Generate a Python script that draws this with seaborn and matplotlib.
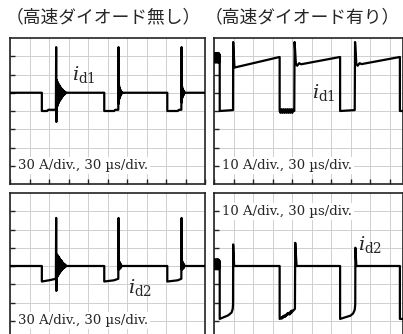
import numpy as np
import matplotlib
matplotlib.use("Agg")
import matplotlib.pyplot as plt
import seaborn as sns

sns.set_style("white")
plt.rcParams["font.family"] = ["DejaVu Serif"]
plt.rcParams["mathtext.fontset"] = "dejavuserif"

# Column headings
title_left = "（高速ダイオード無し）"
title_right = "（高速ダイオード有り）"

# Scale notes shown on each screen
scale_30 = "30 A/div., 30 µs/div."
scale_10 = "10 A/div., 30 µs/div."

# i_d1 without fast diode (µs, A)
t_d1_std = [0, 49, 49, 57, 59, 70.6, 71.0, 71.3,
            71.9, 72.5, 73.1, 73.7, 74.3, 74.9, 75.5, 76.1, 76.7, 77.3, 77.9, 78.5, 79.1,
            79.7, 80.3, 80.9, 81.5, 82.1, 82.7, 83.3, 83.9, 84.5, 85.1, 85.7, 86.3, 87.0,
            145, 145, 160, 162, 166.6, 167.0, 167.3, 167.8, 168.3, 168.8, 169.3, 169.8,
            170.3, 170.8, 171.3, 171.8, 172.3, 173,
            242, 242, 258, 260, 263.6, 264.0, 264.3, 264.8, 265.3, 265.8, 266.3, 266.8,
            267.3, 267.8, 268.3, 269, 300]
i_d1_std = [30, 30, 0, 0, 2, 2, 105, -18,
            51, 7, 48, 10, 45, 13, 43, 16, 41, 18, 39, 20, 37,
            22, 36, 24, 34, 26, 33, 27, 32, 28, 31, 29, 30.5, 30,
            30, 0, 0, 2, 2, 105, 12, 42, 20, 38, 23, 35,
            26, 33, 28, 31, 29, 30,
            30, 0, 0, 2, 2, 105, 14, 40, 22, 36, 25, 34,
            27, 32, 29, 30, 30]

# i_d2 without fast diode (µs, A)
t_d2_std = [0, 49, 49, 60, 70.6, 71.0, 71.3,
            71.9, 72.5, 73.1, 73.7, 74.3, 74.9, 75.5, 76.1, 76.7, 77.3, 77.9, 78.5, 79.1,
            79.7, 80.3, 80.9, 81.5, 82.1, 82.7, 83.3, 83.9, 84.5, 85.1, 85.7, 86.3, 87.0,
            145, 145, 160, 166.6, 167.0, 167.3, 167.8, 168.3, 168.8, 169.3, 169.8, 170.3,
            170.8, 171.3, 172,
            242, 242, 258, 263.6, 264.0, 264.3, 264.8, 265.3, 265.8, 266.3, 266.8, 267.3,
            267.8, 268.5, 300]
i_d2_std = [0, 0, -25.5, -23.5, -21, 79, -41,
            19, -18, 18, -16, 16, -14, 14, -12, 12, -10, 10, -8, 9,
            -7, 7, -5, 5, -4, 4, -3, 3, -2, 2, -1, 0.5, 0,
            0, -25.5, -23.5, -21, 79, -6, 8, -5, 6, -4, 4, -3,
            2, -1, 0,
            0, -25.5, -23.5, -21, 79, -6, 8, -5, 6, -4, 4, -3,
            2, 0, 0]

# i_d1 with fast diode (µs, A)
t_d1_fast = [0.3, 0.8, 1.3, 1.8, 2.3, 2.8, 3.3, 3.8, 4.3, 4.8, 5.3, 5.8, 6.3, 6.8, 7.3, 7.8, 8.3, 8.8,
             8.8, 29.3, 29.5, 31.5, 101,
             101, 102.5, 104, 105.5, 107, 108.5, 110, 111.5, 113, 114.5, 116, 117.5, 119, 120.5, 122, 123.5,
             124, 126, 128, 131, 134, 194,
             194, 216.5, 217, 219, 221, 224, 227, 286,
             286, 290]
i_d1_fast = [31.5, 26.8, 31.8, 26.6, 31.6, 26.8, 31.8, 26.6, 31.6, 26.8, 31.8, 26.6, 31.6, 26.8, 31.8, 26.6, 31.2, 28,
             0, 0.5, 37.8, 23.8, 29.6,
             0, -1, 1, -1, 1, -1, 1, -1, 1, -1, 1, -1, 1, -1, 1, 0,
             37.8, 25.8, 24.8, 26.2, 25.6, 29.6,
             0, 0.5, 37.8, 25.8, 24.8, 26.2, 25.7, 29.6,
             0, 0]

# i_d2 with fast diode (µs, A)
t_d2_fast = [0.3, 0.8, 1.3, 1.8, 2.3, 2.8, 3.3, 3.8, 4.3, 4.8, 5.3, 5.8, 6.3, 6.8, 7.3, 7.8, 8.3, 8.8,
             8.8, 22, 27, 28.8, 29.3, 29.5, 31, 101,
             101, 108, 104, 114, 109, 120, 116, 124.5, 125, 127, 194,
             194, 210, 214, 216.5, 217.3, 217.5, 219, 286,
             286, 290]
i_d2_fast = [3.6, -1.8, 3.4, -1.6, 3.6, -1.8, 3.4, -1.6, 3.6, -1.8, 3.4, -1.6, 3.6, -1.8, 3.4, -1.6, 3.0, 0,
             -29, -27, -25.5, -23.5, -21, 11.8, 0, 0,
             -29, -27.2, -28.8, -25.8, -27.8, -24.4, -26.6, -23.5, 12.7, 0, 0,
             -29, -27.2, -26, -24, -21, 10, 0, 0,
             -29, -29]

W, H = 403, 334
fig = plt.figure(figsize=(W / 100, H / 100), dpi=100)


def panel(rect_px, t, i, xmax, per_div, label, label_xy, note, note_y):
    x0, top, w, h = rect_px
    ax = fig.add_axes([x0 / W, (H - top - h) / H, w / W, h / H])
    sns.lineplot(x=t, y=i, sort=False, estimator=None, color="black",
                 linewidth=1.6, ax=ax, zorder=3)
    ax.set_xlim(0, xmax)
    ax.set_ylim(-4 * per_div, 4 * per_div)
    ax.set_xticks(np.arange(0, xmax + 1, 30))
    ax.set_yticks(np.arange(-3, 4) * per_div)
    ax.grid(True, color="#cfcfcf", linewidth=0.7, zorder=0)
    ax.set_axisbelow(True)
    ax.tick_params(direction="in", length=3.5, width=1.0, colors="#222222",
                   left=True, bottom=True, labelleft=False, labelbottom=False)
    ax.set_xlabel("")
    ax.set_ylabel("")
    for s in ax.spines.values():
        s.set_color("#222222")
        s.set_linewidth(1.2)
    ax.text(label_xy[0], label_xy[1], label, fontsize=14, ha="left", va="center", zorder=4)
    ax.text(0.42 * 30, note_y, note, fontsize=9.5, ha="left", va="center", zorder=4,
            bbox=dict(facecolor="white", edgecolor="none", pad=1.5))
    return ax


panel((10, 38, 195, 146), t_d1_std, i_d1_std, 300, 30,
      r"$i_{\mathrm{d1}}$", (95, 60), scale_30, -90)
panel((214, 38, 188.5, 146), t_d1_fast, i_d1_fast, 290, 10,
      r"$i_{\mathrm{d1}}$", (150, 10.4), scale_10, -30)
panel((10, 193, 195, 146), t_d2_std, i_d2_std, 300, 30,
      r"$i_{\mathrm{d2}}$", (181, -36), scale_30, -90)
panel((214, 193, 188.5, 146), t_d2_fast, i_d2_fast, 290, 10,
      r"$i_{\mathrm{d2}}$", (221, 12), scale_10, 30)

fig.text(103 / W, 1 - 17 / H, title_left, fontsize=12.8, ha="center", va="center",
         family=["Noto Sans CJK JP", "DejaVu Sans"])
fig.text(302 / W, 1 - 17 / H, title_right, fontsize=12.8, ha="center", va="center",
         family=["Noto Sans CJK JP", "DejaVu Sans"])

fig.savefig("out.png", dpi=100)
